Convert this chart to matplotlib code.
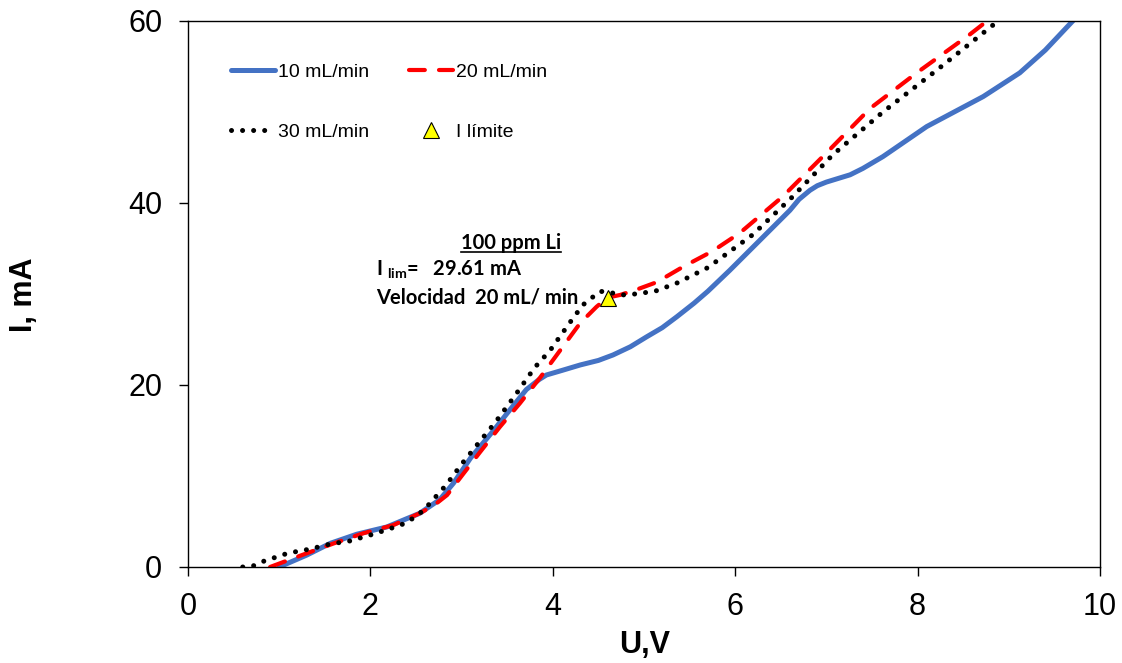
import matplotlib
matplotlib.use("Agg")
import matplotlib.pyplot as plt
from matplotlib.lines import Line2D

# ---- data ----
u_10 = [1.0, 1.3, 1.56, 1.85, 2.18, 2.54, 2.76, 2.91, 3.1, 3.35, 3.5, 3.71, 3.85, 3.93, 4.1, 4.3,
        4.5, 4.66, 4.85, 5.03, 5.2, 5.36, 5.55, 5.7, 5.94, 6.3, 6.6, 6.7, 6.82, 6.9, 7.0, 7.26,
        7.4, 7.62, 8.1, 8.72, 9.12, 9.4, 9.72]
i_10 = [0, 1.3, 2.6, 3.6, 4.4, 5.9, 7.4, 9.2, 12.0, 15.0, 16.9, 19.5, 20.6, 21.1, 21.6, 22.2,
        22.7, 23.3, 24.2, 25.3, 26.3, 27.5, 29.0, 30.3, 32.6, 36.2, 39.2, 40.4, 41.4, 41.9, 42.3, 43.1,
        43.8, 45.1, 48.4, 51.7, 54.3, 56.8, 60.2]

u_20 = [0.9, 1.3, 1.6, 1.92, 2.25, 2.54, 2.7, 2.84, 3.0, 3.2, 3.42, 3.64, 3.86, 4.08, 4.3, 4.48,
        4.6, 4.74, 4.95, 5.14, 5.43, 5.75, 6.05, 6.52, 7.0, 7.48, 7.99, 8.57, 8.8]
i_20 = [0, 1.5, 2.6, 3.7, 4.6, 5.9, 6.8, 7.9, 10.0, 12.6, 15.4, 18.0, 20.8, 23.8, 26.8, 28.6,
        29.6, 29.9, 30.6, 31.3, 33.0, 34.7, 36.7, 40.7, 45.5, 50.4, 54.3, 58.5, 60.3]

u_30 = [0.6, 0.71, 0.82, 0.94, 1.06, 1.19, 1.3, 1.43, 1.55, 1.67, 1.8, 1.92, 2.03, 2.15, 2.27,
        2.38, 2.49, 2.59, 2.67, 2.75, 2.83, 3.0, 3.2, 3.37, 3.59, 3.8, 3.97, 4.19, 4.33, 4.43,
        4.52, 4.66, 4.77, 4.9, 5.12, 5.36, 5.7, 6.19, 6.63, 7.07, 7.62, 8.21, 8.87]
i_30 = [0, 0.1, 0.6, 1.0, 1.4, 1.7, 1.9, 2.2, 2.5, 2.7, 2.9, 3.3, 3.6, 4.0, 4.4,
        4.8, 5.5, 6.3, 7.2, 8.1, 9.0, 11.3, 13.8, 15.9, 18.9, 21.9, 23.8, 26.9, 28.8, 29.6,
        30.3, 30.1, 29.9, 30.0, 30.3, 31.2, 32.9, 36.5, 40.7, 45.3, 50.0, 54.6, 59.9]

u_lim = [4.6]
i_lim = [29.61]

x_ticks = [0, 2, 4, 6, 8, 10]
y_ticks = [0, 20, 40, 60]

labels = ["10 mL/min", "20 mL/min", "30 mL/min", "I límite"]

W, H = 1122, 663
fig = plt.figure(figsize=(W / 100, H / 100), dpi=100)
ax = fig.add_axes([188 / W, 1 - 567 / H, (1100 - 188) / W, (567 - 21) / H])

l10, = ax.plot(u_10, i_10, color="#4472C4", lw=3.6, solid_capstyle="round", solid_joinstyle="round")
l20, = ax.plot(u_20, i_20, color="#FF0000", lw=3.0, linestyle=(0, (3.8, 3.4)),
               dash_capstyle="round")
l30, = ax.plot(u_30, i_30, color="black", lw=3.6, linestyle=(0, (0.01, 2.2)),
               dash_capstyle="round")
llim, = ax.plot(u_lim, i_lim, linestyle="none", marker="^", markersize=11,
                markerfacecolor="#FFFF00", markeredgecolor="black", markeredgewidth=0.8)

ax.set_xlim(0, 10)
ax.set_ylim(0, 60)
ax.set_xticks(x_ticks)
ax.set_yticks(y_ticks)
ax.tick_params(axis="both", direction="out", length=6.5, width=1, labelsize=22,
               colors="black")
ax.tick_params(axis="x", pad=11.5)
ax.tick_params(axis="y", pad=12)
for lab in ax.get_xticklabels() + ax.get_yticklabels():
    lab.set_fontfamily("Liberation Sans")
for s in ax.spines.values():
    s.set_linewidth(1.0)

fig.text(24 / W, 1 - 295 / H, "I, mA", rotation=90, ha="center", va="center",
         fontsize=22, fontweight="bold", family="Liberation Sans")
fig.text(645 / W, 1 - 645 / H, "U,V", ha="center", va="center",
         fontsize=22, fontweight="bold", family="Liberation Sans")

leg = ax.legend([l10, l30, l20, llim], [labels[0], labels[2], labels[1], labels[3]],
                ncol=2, frameon=False, loc="upper left",
                bbox_to_anchor=(231 / W, 1 - 63 / H), bbox_transform=fig.transFigure,
                prop={"family": "Liberation Sans", "size": 14},
                handlelength=2.26, handletextpad=0.17, columnspacing=2.05,
                labelspacing=2.2, borderpad=0, borderaxespad=0)

tfont = dict(family="Lato", fontweight="bold", fontsize=14.5, color="black")
t1 = fig.text(511 / W, 1 - 243 / H, "100 ppm Li", ha="center", va="center", **tfont)
fig.text(376 / W, 1 - 270 / H, r"I $_{\mathregular{lim}}$=   29.61 mA", ha="left", va="center", **tfont)
fig.text(376 / W, 1 - 298 / H, "Velocidad  20 mL/ min", ha="left", va="center", **tfont)

fig.canvas.draw()
bb = t1.get_window_extent()
yline = bb.y0 + 1
fig.add_artist(Line2D([bb.x0 / W, bb.x1 / W], [yline / H, yline / H],
                      transform=fig.transFigure, color="black", lw=1.2))

fig.savefig("out.png", dpi=100, facecolor="white")
